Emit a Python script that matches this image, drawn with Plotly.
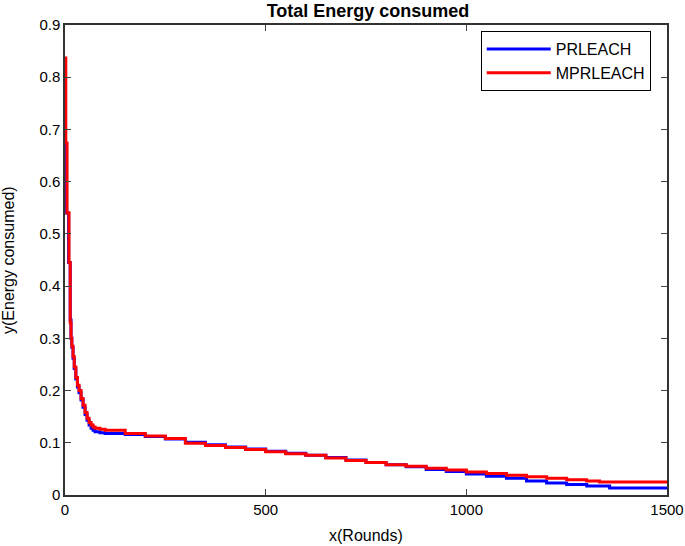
import plotly.graph_objects as go

# PRLEACH (blue)
rounds_pr = [0, 4, 9, 13, 15, 17, 20, 23, 27, 31, 35, 40, 45, 50, 55, 60, 65, 70, 75, 87,
             100, 150, 200, 250, 300, 350, 400, 450, 500, 550, 600, 650, 700, 750, 800,
             850, 900, 950, 1000, 1050, 1100, 1150, 1200, 1250, 1300, 1357, 1500]
energy_pr = [0.670, 0.540, 0.445, 0.335, 0.300, 0.283, 0.262, 0.242, 0.222, 0.207, 0.196,
             0.182, 0.168, 0.154, 0.143, 0.134, 0.128, 0.124, 0.121, 0.119,
             0.118, 0.116, 0.112, 0.107, 0.101, 0.096, 0.092, 0.088, 0.084, 0.080, 0.076,
             0.072, 0.067, 0.062, 0.058, 0.054, 0.049, 0.045, 0.040, 0.036, 0.032, 0.027,
             0.023, 0.020, 0.017, 0.0134, 0.0134]

# MPRLEACH (red)
rounds_mpr = [0, 2, 5, 10, 13, 15, 17, 20, 23, 27, 31, 35, 40, 45, 50, 55, 60, 65, 70, 75,
              87, 100, 150, 200, 250, 300, 350, 400, 450, 500, 550, 600, 650, 700, 750,
              800, 850, 900, 950, 1000, 1050, 1100, 1150, 1200, 1250, 1300, 1332, 1500]
energy_mpr = [0.837, 0.674, 0.540, 0.445, 0.330, 0.300, 0.285, 0.265, 0.245, 0.225, 0.210,
              0.200, 0.185, 0.172, 0.158, 0.147, 0.139, 0.134, 0.130, 0.128,
              0.126, 0.124, 0.118, 0.113, 0.108, 0.099, 0.095, 0.091, 0.087, 0.083, 0.079,
              0.076, 0.071, 0.066, 0.062, 0.058, 0.055, 0.051, 0.048, 0.044, 0.041, 0.038,
              0.035, 0.032, 0.029, 0.027, 0.025, 0.025]

x_ticks = [0, 500, 1000, 1500]
y_ticks = [0, 0.1, 0.2, 0.3, 0.4, 0.5, 0.6, 0.7, 0.8, 0.9]

fig = go.Figure()
fig.add_trace(go.Scatter(x=rounds_pr, y=energy_pr, mode="lines", name="PRLEACH",
                         line=dict(color="#0000FF", width=3, shape="hv")))
fig.add_trace(go.Scatter(x=rounds_mpr, y=energy_mpr, mode="lines", name="MPRLEACH",
                         line=dict(color="#FF0000", width=3, shape="hv")))

font_family = "Liberation Sans, Arial, sans-serif"
fig.update_layout(
    width=685, height=546,
    margin=dict(l=65, r=18, t=25, b=51),
    paper_bgcolor="white", plot_bgcolor="white",
    font=dict(family=font_family, size=15, color="black"),
    title=dict(text="<b>Total Energy consumed</b>", x=368 / 685, xref="container",
               xanchor="center", y=1 - 11 / 546, yref="container", yanchor="middle",
               font=dict(size=18)),
    showlegend=True,
    legend=dict(x=0.973, y=0.987, xanchor="right", yanchor="top",
                bordercolor="black", borderwidth=1, bgcolor="white",
                font=dict(size=16), tracegroupgap=0, itemwidth=64),
    xaxis=dict(range=[0, 1500], tickvals=x_ticks, ticks="inside", ticklen=6,
               showline=True, linecolor="#333", linewidth=1.5, mirror="ticks",
               showgrid=False, zeroline=False, automargin=False,
               tickfont=dict(size=15)),
    yaxis=dict(range=[0, 0.9], tickvals=y_ticks, ticks="inside", ticklen=6,
               showline=True, linecolor="#333", linewidth=1.5, mirror="ticks",
               showgrid=False, zeroline=False, automargin=False,
               tickfont=dict(size=15)),
    annotations=[
        dict(text="x(Rounds)", x=0.5, xref="paper", y=-40 / 470, yref="paper",
             xanchor="center", yanchor="middle", showarrow=False, font=dict(size=16)),
        dict(text="y(Energy consumed)", x=-57 / 602, xref="paper", y=0.5, yref="paper",
             xanchor="center", yanchor="middle", textangle=-90, showarrow=False,
             font=dict(size=16)),
    ],
)

fig.write_html("out.html", config={"displayModeBar": False},
               post_script="document.body.style.margin='0';")
